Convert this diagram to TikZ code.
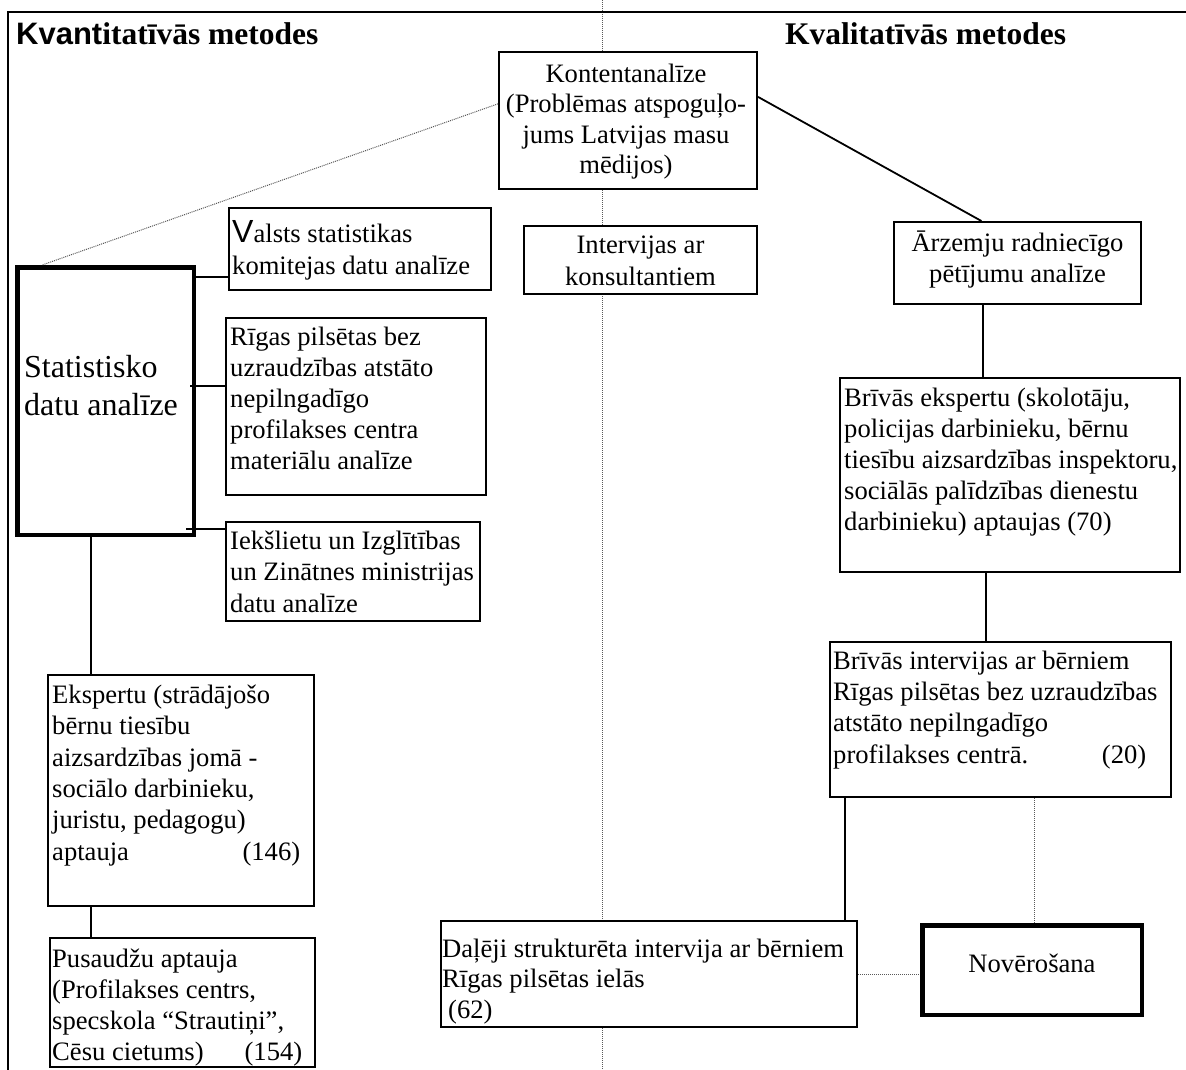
\documentclass[tikz,border=0pt]{standalone}
\usepackage{fontspec}
\setmainfont{Liberation Serif}
\newfontfamily\arialf{Liberation Sans}
\usetikzlibrary{calc}
\newcommand\bodyfs[1]{\fontsize{26.6}{#1}\selectfont}
\begin{document}
\begin{tikzpicture}[x=1pt,y=-1pt,
  box/.style={draw, line width=1.8pt, fill=white, inner sep=0pt, anchor=north west},
  thickbox/.style={box, line width=4.5pt},
  txt/.style={inner sep=0pt, anchor=north west, align=left},
  ctxt/.style={inner sep=0pt, anchor=north, align=center},
  link/.style={line width=1.8pt},
  dots/.style={line width=1pt, densely dotted, gray!70!black},
  frame/.style={line width=2pt}]
\useasboundingbox (0,0) rectangle (1186,1070);
% frame and divider
\coordinate (ftl) at (8,12);
\coordinate (ftr) at (1186,12);
\coordinate (fbl) at (8,1070);
\coordinate (dvt) at (602,0);
\coordinate (dvb) at (602,1070);
\draw[dots] (dvt) -- (dvb);
\draw[frame] (fbl) -- (ftl) -- (ftr);
% titles
\node[inner sep=0pt, anchor=base west] (t1) at (16,45)
  {{\arialf\bfseries\fontsize{31}{34}\selectfont Kvant}{\bfseries\fontsize{31.5}{34}\selectfont itatīvās metodes}};
\node[inner sep=0pt, anchor=base west] (t2) at (785,45)
  {\bfseries\fontsize{31.5}{34}\selectfont Kvalitatīvās metodes};
% boxes
\node[box, minimum width=258.2pt, minimum height=137.2pt] (kont) at (498,51) {};
\node[box, minimum width=262.2pt, minimum height=82.2pt] (val) at (228,207) {};
\node[thickbox, minimum width=176.5pt, minimum height=267.5pt] (stat) at (15,265) {};
\node[box, minimum width=260.2pt, minimum height=177.2pt] (rig) at (225,317) {};
\node[box, minimum width=254.2pt, minimum height=99.2pt] (iek) at (225,521) {};
\node[box, minimum width=233.2pt, minimum height=68.2pt] (intv) at (523,225) {};
\node[box, minimum width=247.2pt, minimum height=82.2pt] (arz) at (893,221) {};
\node[box, minimum width=340.2pt, minimum height=194.2pt] (bek) at (839,377) {};
\node[box, minimum width=341.2pt, minimum height=155.2pt] (bint) at (829,641) {};
\node[box, minimum width=266.2pt, minimum height=231.2pt] (eks) at (47,674) {};
\node[box, minimum width=265.2pt, minimum height=129.2pt] (pus) at (49,937) {};
\node[box, minimum width=416.2pt, minimum height=106.2pt] (dal) at (440,920) {};
\node[thickbox, minimum width=219.5pt, minimum height=89.5pt] (nov) at (920,923) {};
% texts
\node[ctxt, font=\bodyfs{30.5}] (kontT) at (626,51)
  {\rule{0pt}{31pt}Kontentanalīze\\(Problēmas atspoguļo-\\jums Latvijas masu\\mēdijos)};
\node[txt, font=\bodyfs{32}] (valT) at (232,207)
  {\rule{0pt}{35pt}{\arialf\fontsize{32}{32}\selectfont V}alsts statistikas\\komitejas datu analīze};
\node[txt, font=\fontsize{32}{38}\selectfont] (statT) at (24,265)
  {\rule{0pt}{112pt}Statistisko\\datu analīze};
\node[txt, font=\bodyfs{31}] (rigT) at (230,317)
  {\rule{0pt}{28pt}Rīgas pilsētas bez\\uzraudzības atstāto\\nepilngadīgo\\profilakses centra\\materiālu analīze};
\node[txt, font=\bodyfs{31.5}] (iekT) at (230,521)
  {\rule{0pt}{28pt}Iekšlietu un Izglītības\\un Zinātnes ministrijas\\datu analīze};
\node[ctxt, font=\bodyfs{32}] (intvT) at (640.5,225)
  {\rule{0pt}{28pt}Intervijas ar\\konsultantiem};
\node[ctxt, font=\bodyfs{31}] (arzT) at (1017.5,221)
  {\rule{0pt}{30pt}Ārzemju radniecīgo\\pētījumu analīze};
\node[txt, font=\bodyfs{31}] (bekT) at (844,377)
  {\rule{0pt}{29pt}Brīvās ekspertu (skolotāju,\\policijas darbinieku, bērnu\\tiesību aizsardzības inspektoru,\\sociālās palīdzības dienestu\\darbinieku) aptaujas (70)};
\node[txt, font=\bodyfs{31.3}] (bintT) at (833,641)
  {\rule{0pt}{28pt}Brīvās intervijas ar bērniem\\Rīgas pilsētas bez uzraudzības\\atstāto nepilngadīgo\\\makebox[313pt][l]{profilakses centrā.\hfill(20)}};
\node[txt, font=\bodyfs{31.4}] (eksT) at (52,674)
  {\rule{0pt}{29pt}Ekspertu (strādājošo\\bērnu tiesību\\aizsardzības jomā -\\sociālo darbinieku,\\juristu, pedagogu)\\\makebox[248pt][l]{aptauja\hfill(146)}};
\node[txt, font=\bodyfs{31}] (pusT) at (52,937)
  {\rule{0pt}{30pt}Pusaudžu aptauja\\(Profilakses centrs,\\specskola “Strautiņi”,\\\makebox[250pt][l]{Cēsu cietums)\hfill(154)}};
\node[txt, font=\bodyfs{30.5}] (dalT) at (442,920)
  {\rule{0pt}{37pt}Daļēji strukturēta intervija ar bērniem\\Rīgas pilsētas ielās\\\hspace*{6pt}(62)};
\node[ctxt, font=\bodyfs{31}] (novT) at (1032,923)
  {\rule{0pt}{49pt}Novērošana};
% connectors
\coordinate (a1) at ($(kont.north west)!0.38!(kont.south west)$);
\coordinate (b1) at ($(stat.north west)!0.15!(stat.north east)$);
\draw[dots] (a1) -- (b1);
\coordinate (a2) at ($(kont.north east)!0.33!(kont.south east)$);
\coordinate (b2) at ($(arz.north west)!0.355!(arz.north east)$);
\draw[link] (a2) -- (b2);
\coordinate (a3) at ($(val.north west)!0.83!(val.south west)$);
\draw[link] (a3) -- (a3 -| stat.east);
\coordinate (a4) at ($(rig.north west)!0.385!(rig.south west)$);
\draw[link] (a4) -- ($(a4 -| stat.east)+(-6,0)$);
\coordinate (a5) at ($(iek.north west)!0.08!(iek.south west)$);
\draw[link] (a5) -- ($(a5 -| stat.east)+(-10,0)$);
\coordinate (a6) at ($(stat.south west)!0.42!(stat.south east)$);
\draw[link] (a6) -- (a6 |- eks.north);
\draw[link] (a6 |- eks.south) -- (a6 |- pus.north);
\coordinate (a8) at ($(arz.south west)!0.36!(arz.south east)$);
\draw[link] (a8) -- (a8 |- bek.north);
\coordinate (a9) at ($(bek.south west)!0.43!(bek.south east)$);
\draw[link] (a9) -- (a9 |- bint.north);
\coordinate (a10) at ($(bint.south west)!0.047!(bint.south east)$);
\draw[link] (a10) -- (a10 |- dal.north);
\coordinate (a11) at ($(bint.south west)!0.60!(bint.south east)$);
\draw[dots] (a11) -- (a11 |- nov.north);
\draw[dots] (dal.east) -- (dal.east -| nov.west);
\end{tikzpicture}
\end{document}
